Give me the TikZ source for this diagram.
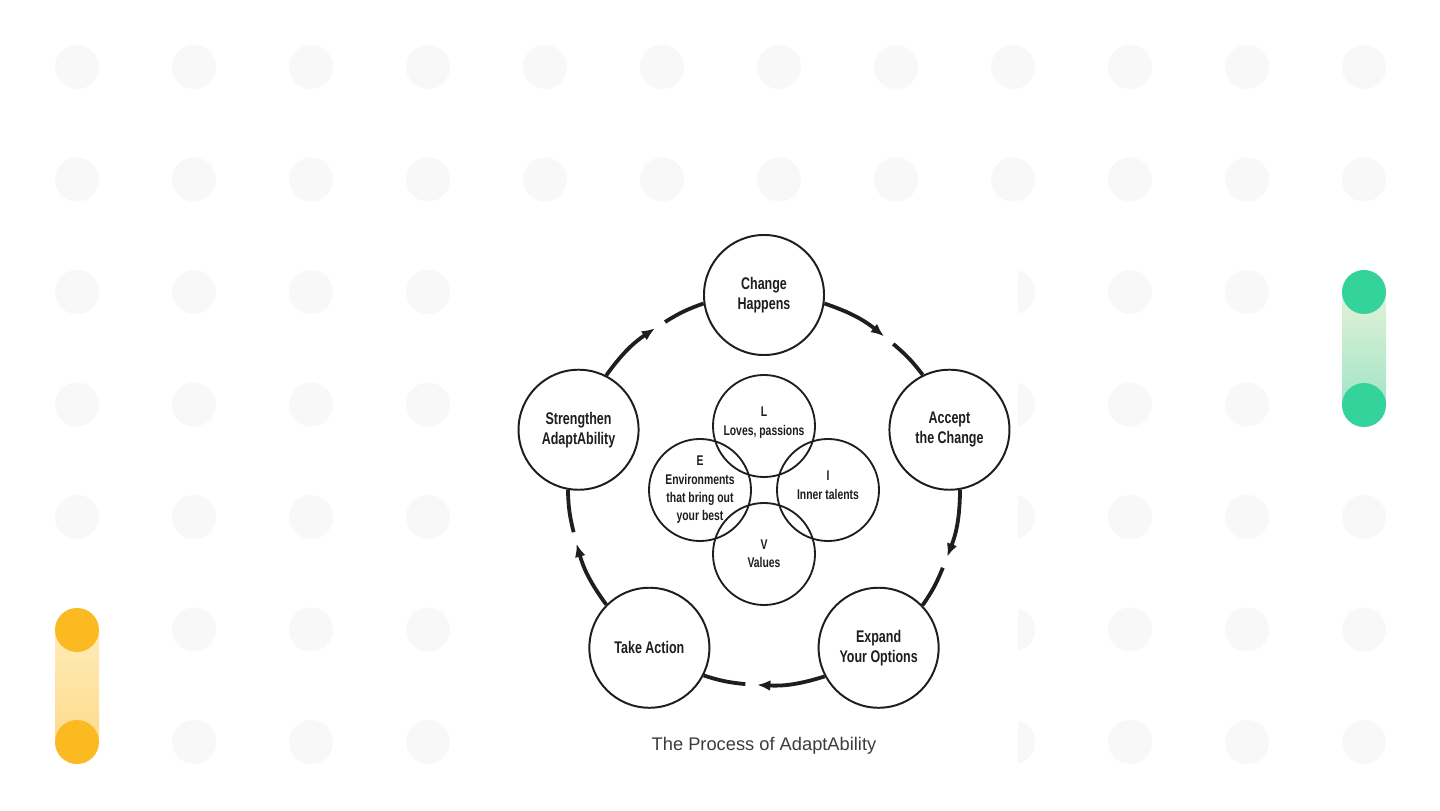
\documentclass[tikz,border=0pt]{standalone}
\usepackage{fontspec}
\setmainfont{Liberation Sans}
\newfontfamily\condfont[FakeStretch=0.74]{Liberation Sans}
\usetikzlibrary{arrows.meta,positioning}
\definecolor{dotgray}{HTML}{F8F8F8}
\definecolor{inkgray}{HTML}{1E1E1E}
\definecolor{capgray}{HTML}{3C3C3C}
\definecolor{mint}{HTML}{34D39B}
\definecolor{mintlight}{HTML}{E2F2D8}
\definecolor{mintmid}{HTML}{A2E4C6}
\definecolor{amber}{HTML}{FBBA22}
\definecolor{amberlight}{HTML}{FFEBB8}
\definecolor{ambermid}{HTML}{FDDB8C}

\begin{document}
\begin{tikzpicture}[
    x=0.025cm, y=0.025cm,
    stage/.style={circle, draw=inkgray, line width=1.4pt, fill=white, align=center,
                  minimum size=3cm, inner sep=0pt, text=inkgray,
                  font=\condfont\bfseries\fontsize{12}{14.2}\selectfont},
    value/.style={circle, draw=inkgray, line width=1.3pt, align=center,
                  minimum size=2.55cm, inner sep=0pt, text=inkgray,
                  font=\condfont\bfseries\fontsize{10}{13}\selectfont},
    link/.style={draw=inkgray, line width=2.7pt},
    arrow/.style={link, -{Latex[length=3.3mm, width=2.7mm]}},
    dot/.style={fill=dotgray}
  ]
    \useasboundingbox (0,0) rectangle (1440,810);
    \fill[white] (0,0) rectangle (1440,810);

    % dotted backdrop
    \foreach \i in {0,...,11}
      \foreach \j in {0,...,6}
        \fill[dot] (77+117*\i, 743-112.5*\j) circle[radius=22];

    % side pills
    \fill[top color=mintlight, bottom color=mintmid] (1342,405) rectangle (1386,518);
    \fill[mint] (1364,518) circle[radius=22];
    \fill[mint] (1364,405) circle[radius=22];
    \fill[top color=amberlight, bottom color=ambermid] (55,68) rectangle (99,180);
    \fill[amber] (77,180) circle[radius=22];
    \fill[amber] (77,68) circle[radius=22];

    \fill[white] (500,45) rectangle (1018,595);

    \coordinate (c) at (764,320);

    \node[stage] (ch) at ([shift={(90:195)}]c) {Change\\Happens};
    \node[stage] (ac) at ([shift={(18:195)}]c) {Accept\\the Change};
    \node[stage] (ex) at ([shift={(-54:195)}]c) {Expand\\Your Options};
    \node[stage] (ta) at ([shift={(-126:195)}]c) {Take Action};
    \node[stage] (st) at ([shift={(162:195)}]c) {Strengthen\\AdaptAbility};

    \node[value] (lv) at ([shift={(0,64)}]c) {L\\Loves, passions\\[-6pt]};
    \node[value] (in) at ([shift={(64,0)}]c) {I\\Inner talents\\[-6pt]};
    \node[value] (va) at ([shift={(0,-64)}]c) {V\\Values};
    \node[value] (en) at ([shift={(-64,0)}]c) {E\\Environments\\that bring out\\your best};

    \coordinate (t1) at ([shift={(52:195)}]c);
    \coordinate (r1) at ([shift={(48.5:195)}]c);
    \coordinate (t2) at ([shift={(-20:195)}]c);
    \coordinate (r2) at ([shift={(-23.5:195)}]c);
    \coordinate (t3) at ([shift={(-92:195)}]c);
    \coordinate (r3) at ([shift={(-95.5:195)}]c);
    \coordinate (t4) at ([shift={(-164:195)}]c);
    \coordinate (r4) at ([shift={(-167.5:195)}]c);
    \coordinate (t5) at ([shift={(124:195)}]c);
    \coordinate (r5) at ([shift={(120.5:195)}]c);

    \draw[arrow] (ch.-8.85) to[bend left=10.15] (t1);
    \draw[link] (r1) to[bend left=6.4] (ac.116.85);
    \draw[arrow] (ac.-80.85) to[bend left=10.15] (t2);
    \draw[link] (r2) to[bend left=6.4] (ex.44.85);
    \draw[arrow] (ex.-152.85) to[bend left=10.15] (t3);
    \draw[link] (r3) to[bend left=6.4] (ta.-27.15);
    \draw[arrow] (ta.135.15) to[bend left=10.15] (t4);
    \draw[link] (r4) to[bend left=6.4] (st.260.85);
    \draw[arrow] (st.63.15) to[bend left=10.15] (t5);
    \draw[link] (r5) to[bend left=6.4] (ch.188.85);

    \node[text=capgray, font=\fontsize{13}{15}\selectfont] (cap) at (764,64)
      {The Process of AdaptAbility};
  \end{tikzpicture}
\end{document}
